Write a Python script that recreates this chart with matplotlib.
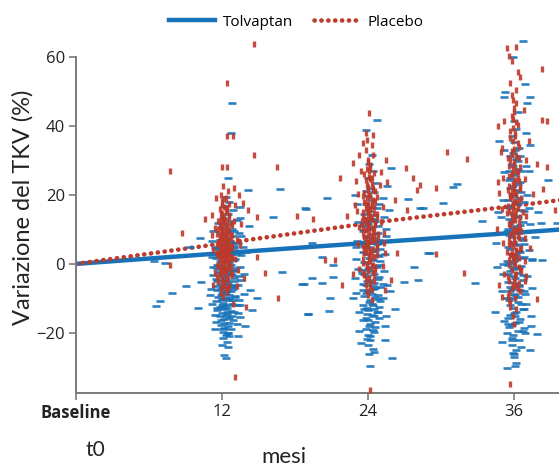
import matplotlib
matplotlib.use("Agg")
import matplotlib.pyplot as plt
from matplotlib.lines import Line2D

# ---------------- data ----------------
line_months = [0, 12, 24, 36, 40]
tolvaptan_mean = [0, 3.1, 6.1, 9.0, 10.0]
placebo_mean = [0, 5.9, 11.8, 16.8, 18.6]

x_ticks = [0, 12, 24, 36]
x_ticklabels = ["Baseline", "12", "24", "36"]
y_ticks = [-20, 0, 20, 40, 60]
series_names = ["Tolvaptan", "Placebo"]

# individual patients (visit month, % change in TKV)
tolvaptan_m12 = [
    (12.3,-20.5),(12.1,-19.0),(12.5,-18.0),(12.2,-17.2),(11.9,-16.4),(12.6,-15.8),(12.3,-15.0),(12.0,-14.3),(12.7,-13.7),(12.2,-13.0),
    (11.8,-12.4),(12.5,-11.8),(12.1,-11.2),(12.8,-10.6),(12.3,-10.0),(11.7,-9.5),(12.6,-9.0),(12.0,-8.4),(12.4,-7.9),(11.8,-7.3),
    (12.9,-6.8),(12.2,-6.2),(12.5,-5.7),(11.6,-5.1),(12.3,-4.6),(13.0,-4.0),(12.0,-3.5),(12.7,-2.9),(11.7,-2.4),(12.4,-1.8),
    (12.9,-1.3),(12.1,-0.7),(11.6,-0.2),(12.6,0.4),(12.3,0.9),(13.1,1.5),(11.9,2.0),(12.5,2.6),(12.2,3.1),(12.8,3.7),
    (11.7,4.2),(12.4,4.8),(13.0,5.3),(12.1,5.9),(12.6,6.4),(11.8,7.0),(12.3,7.5),(12.9,8.1),(12.0,8.7),(12.5,9.3),
    (12.8,10.0),(11.9,10.8),(12.4,11.6),(12.7,12.5),(12.1,13.4),(12.5,14.5),(12.9,15.6),(12.2,16.8),(12.6,18.0),(12.3,19.5),
    (12.2,-16.0),(12.4,-14.0),(12.0,-12.0),(12.6,-10.5),(12.3,-8.5),(12.1,-7.0),(12.7,-6.0),(12.4,-3.0),(11.9,-1.0),(12.8,-15.0),
    (12.5,-20.0),(12.1,-21.5),(12.4,-12.8),(12.0,-10.2),(12.7,-8.0),(12.2,-4.5),(12.9,-2.2),(11.8,0.8),(13.2,3.0),(13.1,-9.5),
    (13.3,6.0),(11.5,-6.5),(13.2,-12.0),(11.6,-13.5),(12.6,-17.0),(12.2,-18.5),(13.0,9.5),(11.7,11.8),(13.4,-3.5),(13.2,12.8),
    (11.5,-16.8),(12.9,-16.2),(11.8,-15.2),(12.4,-14.6),(13.0,-13.9),(11.6,-12.9),(12.2,-12.2),(12.8,-11.5),(11.5,-10.9),(12.0,-10.4),
    (12.6,-9.8),(13.1,-9.2),(11.9,-8.9),(12.3,-8.0),(12.9,-7.4),(11.6,-7.7),(12.1,-6.6),(12.7,-6.4),(11.8,-5.8),(12.4,-5.3),
    (13.0,-5.0),(11.5,-4.3),(12.2,-3.9),(12.8,-3.3),(11.9,-2.7),(12.5,-2.4),(13.1,-1.9),(11.6,-1.6),(12.2,-1.2),(12.7,-0.4),
    (11.8,0.1),(12.4,0.6),(13.0,1.1),(11.5,1.6),(12.1,2.4),(12.7,2.9),(11.9,3.4),(12.4,3.9),(13.0,4.5),(11.6,5.0),
    (12.2,5.6),(12.8,6.2),(11.9,6.8),(12.4,7.2),(12.1,-19.8),(12.7,-18.8),(11.9,-17.7),(12.4,-22.6),(12.0,-23.4),(12.6,-21.0),
    (11.2,-11.5),(11.3,-3.2),(11.4,4.6),(11.1,-7.2),(11.3,9.5),(13.3,-6.2),(13.5,-1.0),(13.4,-10.5),(13.6,2.5),(13.3,-14.2),
    (13.7,5.0),(13.4,9.0),(13.2,-17.5),(11.4,-14.8),(11.3,-0.8),(13.6,-4.6),(13.8,-8.8),(11.2,6.5),(13.5,13.2),(11.4,-19.0),
    (13.3,-20.8),(13.5,-12.0),
    (12.8,46.7),(12.7,38.0),(12.5,25.0),(16.8,21.7),(14.1,21.4),(18.9,16.0),(16.2,13.6),(10.2,7.5),(9.4,5.0),(7.9,-8.4),
    (6.9,-10.7),(6.6,-12.2),(10.0,-12.8),(10.3,-5.2),(9.0,-6.4),(16.9,-2.3),(18.7,-5.8),(19.1,-14.5),(14.9,-10.0),(14.5,-13.3),
    (12.5,-24.0),(12.2,-26.4),(12.3,-27.3),(12.5,-20.0),(6.4,0.9),(7.3,0.3),(13.6,8.0),(14.0,3.5),(13.8,-3.0),(14.3,-7.5),
    (13.5,-15.5),(14.2,11.0),(13.9,-18.0),(11.0,-9.0),(11.2,2.0),(13.5,16.5),
]
tolvaptan_m24 = [
    (24.2,-22.0),(24.0,-20.5),(24.4,-19.2),(24.1,-18.0),(24.6,-16.9),(23.8,-15.8),(24.3,-14.8),(24.7,-13.8),(23.9,-12.9),(24.4,-12.0),
    (24.1,-11.1),(24.8,-10.2),(23.7,-9.4),(24.3,-8.6),(24.0,-7.8),(24.6,-7.0),(23.8,-6.2),(24.5,-5.4),(24.1,-4.6),(24.9,-3.8),
    (23.7,-3.0),(24.3,-2.2),(24.0,-1.4),(24.6,-0.6),(23.8,0.2),(24.4,1.0),(24.1,1.8),(24.8,2.6),(23.6,3.4),(24.3,4.2),
    (24.0,5.0),(24.7,5.8),(23.9,6.6),(24.4,7.4),(24.1,8.2),(24.8,9.0),(23.7,9.8),(24.3,10.6),(24.0,11.5),(24.6,12.4),
    (23.9,13.3),(24.4,14.2),(24.1,15.2),(24.7,16.2),(23.8,17.3),(24.3,18.4),(24.0,19.6),(24.5,20.8),(24.2,22.0),(24.6,23.5),
    (24.0,25.0),(24.4,27.0),(24.1,29.0),(24.3,31.5),(24.2,-17.5),(24.5,-15.0),(24.0,-13.5),(24.3,-11.5),(24.6,-9.5),(24.1,-8.0),
    (24.4,-6.5),(23.9,-5.0),(24.7,-1.0),(24.2,-21.0),(24.9,-12.5),(23.6,-7.5),(25.0,0.8),(23.5,-2.5),(25.1,6.0),(23.6,11.0),
    (24.5,-19.8),(24.0,-16.2),(24.8,-14.0),(25.0,-10.8),(23.7,-13.2),(24.6,3.8),(24.2,12.8),(25.2,-5.8),(23.8,21.0),(24.9,17.5),
    (23.6,-16.4),(24.9,-15.6),(23.9,-14.4),(24.5,-13.2),(23.6,-11.8),(24.2,-10.6),(24.8,-9.0),(23.8,-8.3),(24.4,-7.4),(25.0,-6.8),
    (23.6,-5.8),(24.2,-5.2),(24.8,-4.4),(23.9,-3.4),(24.5,-2.8),(23.6,-1.8),(24.1,-0.9),(24.9,-0.2),(23.7,0.6),(24.3,1.5),
    (24.9,2.2),(23.8,2.9),(24.4,3.6),(25.0,4.4),(23.7,5.3),(24.3,6.2),(24.9,7.0),(23.8,7.8),(24.5,8.6),(23.6,9.4),
    (24.2,10.2),(24.8,11.0),(23.9,12.0),(24.5,13.0),(23.7,14.6),(24.3,16.6),(24.0,-23.5),(24.4,-24.6),(23.8,-19.0),(24.6,-18.3),
    (24.1,-26.0),(23.9,-21.8),
    (23.0,-8.5),(23.2,-1.5),(23.1,6.5),(23.3,-14.0),(25.3,-2.0),(25.4,3.0),(25.2,-10.0),(25.5,8.0),(25.3,13.5),(23.2,12.0),
    (25.5,-15.2),(23.3,-19.5),(25.2,19.0),(23.1,17.5),(25.6,-6.0),(23.0,1.5),(25.4,-22.0),(23.4,-23.0),(25.7,15.5),(22.9,-4.0),
    (24.7,41.7),(23.8,38.8),(25.9,27.8),(20.6,19.0),(18.8,16.2),(28.5,16.2),(27.3,18.8),(19.4,6.1),(20.2,2.0),(21.1,-0.3),
    (19.4,-4.0),(20.2,-5.5),(21.1,-3.8),(18.6,-5.8),(20.9,-9.9),(20.8,-13.6),(19.1,-14.5),(26.2,-13.0),(26.0,-27.2),(24.2,-29.6),
    (24.5,-25.5),(27.0,-5.2),(27.8,-0.9),(28.1,-4.6),(28.9,3.2),(28.3,16.2),(25.5,10.0),(25.8,-8.0),(22.8,-10.0),(23.0,5.0),
    (25.4,-18.0),(22.9,20.0),(25.6,22.5),
]
tolvaptan_m36 = [
    (36.0,-27.0),(36.2,-25.0),(35.8,-23.5),(36.4,-22.0),(35.9,-20.7),(36.3,-19.5),(35.6,-18.3),(36.1,-17.1),(36.5,-16.0),(35.7,-14.9),
    (36.2,-13.8),(35.9,-12.7),(36.6,-11.6),(35.6,-10.6),(36.3,-9.6),(36.0,-8.6),(36.5,-7.6),(35.7,-6.6),(36.1,-5.6),(36.7,-4.6),
    (35.8,-3.6),(36.3,-2.6),(35.9,-1.6),(36.6,-0.6),(35.6,0.4),(36.2,1.4),(36.0,2.4),(36.5,3.4),(35.7,4.4),(36.3,5.4),
    (35.9,6.4),(36.6,7.4),(35.6,8.4),(36.2,9.4),(36.0,10.4),(36.5,11.4),(35.8,12.4),(36.3,13.5),(35.9,14.6),(36.6,15.7),
    (35.7,16.8),(36.1,17.9),(36.4,19.0),(35.8,20.2),(36.2,21.4),(35.9,22.6),(36.5,23.8),(35.7,25.0),(36.1,26.3),(36.3,27.6),
    (35.8,29.0),(36.2,30.5),(35.9,32.0),(36.4,33.6),(36.0,35.2),(35.8,37.0),(36.2,39.0),(36.0,41.5),(36.3,44.0),(36.1,-15.0),
    (35.9,-10.0),(36.4,-6.0),(36.0,-1.0),(36.2,3.0),(35.8,-21.5),(36.6,-24.0),(35.7,-8.0),(36.8,-13.0),(35.5,-3.0),(36.8,2.0),
    (35.5,10.0),(36.8,18.0),(35.5,-17.5),(36.7,-19.5),(35.6,27.0),(36.8,5.8),(35.4,0.8),(36.9,-8.8),(36.1,-29.5),(36.5,31.2),
    (35.4,-20.0),(36.8,-18.6),(35.8,-17.8),(36.4,-16.7),(35.5,-15.6),(36.0,-14.2),(36.7,-13.0),(35.7,-12.0),(36.3,-11.0),(35.4,-9.8),
    (36.1,-9.0),(36.8,-8.0),(35.8,-7.2),(36.4,-6.4),(35.5,-5.2),(36.1,-4.2),(36.7,-3.2),(35.7,-2.2),(36.4,-1.3),(35.5,-0.3),
    (36.0,0.8),(36.7,1.8),(35.8,2.8),(36.4,3.8),(35.5,4.9),(36.1,5.9),(36.7,6.8),(35.8,7.9),(36.3,8.9),(35.4,9.6),
    (36.0,11.0),(36.7,12.0),(35.6,13.0),(36.2,14.0),(36.8,15.2),(35.7,16.2),(36.3,17.4),(35.5,18.6),(36.0,19.8),(36.6,20.8),
    (35.7,22.0),(36.3,23.2),(35.6,24.4),(36.0,25.8),(36.6,26.8),(35.9,28.4),(36.3,29.8),(35.7,31.4),(36.1,33.0),(36.0,-26.2),
    (35.0,-8.0),(35.1,0.0),(35.0,9.0),(35.2,-16.5),(37.1,-3.5),(37.2,4.0),(37.0,-11.5),(37.3,11.5),(37.1,20.0),(35.1,18.5),
    (37.4,-18.0),(35.2,26.5),(37.0,28.5),(35.0,-22.5),(37.3,-25.0),(35.1,-2.8),(37.2,16.2),(34.9,13.5),(37.5,1.5),(35.2,33.0),
    (36.7,64.6),(35.9,60.0),(36.9,52.2),(35.3,49.9),(35.2,48.4),(37.3,48.4),(37.1,46.7),(34.8,35.7),(37.3,34.5),(31.3,23.2),
    (31.0,22.3),(30.2,17.7),(33.4,12.5),(33.2,8.7),(38.8,24.3),(39.5,11.9),(38.0,15.1),(38.2,11.9),(37.7,7.8),(37.5,1.2),
    (38.3,1.2),(32.8,-5.5),(34.4,-13.9),(37.9,-20.3),(35.4,-30.1),(36.2,-28.7),(35.9,-25.8),(36.9,-20.0),(35.8,-22.0),(29.1,3.2),
    (37.5,-7.0),(34.6,-1.0),(37.2,27.0),(34.7,15.0),(37.4,-15.0),(34.5,6.0),(37.0,38.0),
]

placebo_m12 = [
    (12.1,-9.5),(12.4,-8.2),(11.9,-7.0),(12.6,-6.3),(12.2,-5.6),(11.7,-5.0),(12.5,-4.4),(12.0,-4.0),(12.3,-3.5),(11.8,-3.0),
    (12.7,-2.6),(12.1,-2.2),(12.4,-1.8),(11.9,-1.4),(12.6,-1.0),(12.2,-0.7),(11.7,-0.3),(12.5,0.0),(12.0,0.4),(12.3,0.7),
    (11.8,1.0),(12.7,1.3),(12.1,1.6),(12.4,1.9),(11.9,2.2),(12.6,2.5),(12.2,2.8),(11.6,3.1),(12.5,3.4),(12.0,3.7),
    (12.3,4.0),(11.8,4.3),(12.8,4.6),(12.1,4.9),(12.4,5.2),(11.9,5.5),(12.6,5.8),(12.2,6.1),(11.7,6.4),(12.5,6.7),
    (12.0,7.0),(12.3,7.3),(11.8,7.6),(12.7,7.9),(12.1,8.2),(12.4,8.5),(11.9,8.8),(12.6,9.1),(12.2,9.4),(11.7,9.7),
    (12.5,10.0),(12.0,10.4),(12.3,10.8),(11.8,11.2),(12.7,11.6),(12.1,12.0),(12.4,12.5),(11.9,13.0),(12.6,13.5),(12.2,14.0),
    (12.0,14.6),(12.4,15.2),(11.8,15.9),(12.2,16.6),(12.6,17.4),(12.0,18.2),(12.3,19.0),(11.9,20.0),(12.5,21.2),(12.1,22.5),
    (12.2,-2.0),(12.0,0.0),(12.4,1.0),(12.1,2.0),(12.3,3.0),(11.9,4.0),(12.5,5.0),(12.2,6.0),(12.0,7.0),(12.4,8.0),
    (12.1,9.0),(12.3,10.0),(11.9,11.0),(12.2,12.0),(12.0,13.5),(12.4,-4.5),(12.1,-6.5),(12.3,15.5),(12.6,0.5),(11.7,2.5),
    (11.6,-3.8),(12.8,-3.2),(11.9,-2.4),(12.3,-1.6),(12.7,-0.9),(11.6,-0.5),(12.1,0.2),(12.5,0.9),(11.8,1.4),(12.8,2.0),
    (12.3,2.4),(11.6,2.9),(12.0,3.3),(12.6,3.9),(11.8,4.5),(12.3,4.7),(12.8,5.3),(11.6,5.9),(12.1,6.3),(12.5,6.9),
    (11.8,7.4),(12.3,7.8),(12.8,8.3),(11.6,8.6),(12.0,9.3),(12.5,9.8),(11.9,10.3),(12.4,10.9),(12.8,11.4),(11.7,12.3),
    (12.2,12.8),(12.6,14.3),(11.9,14.8),(12.4,16.2),(12.0,17.0),(12.2,18.8),(12.5,-6.8),(11.9,-8.5),(12.3,-7.2),(12.0,-5.3),
    (11.3,4.0),(11.4,10.5),(13.1,1.5),(13.2,7.0),(13.0,12.5),(11.4,-2.5),(13.3,-1.8),(11.2,14.2),(13.1,17.0),(13.2,-6.5),
    (11.5,19.0),(13.0,22.0),
    (7.7,27.0),(8.7,9.0),(10.6,13.0),(12.4,52.5),(12.9,37.0),(12.4,37.0),(14.6,31.6),(16.5,28.0),(12.4,28.0),(12.0,28.0),
    (14.9,13.6),(16.6,-10.0),(7.7,-0.3),(13.1,-32.7),(15.5,-2.6),(14.1,15.7),(13.7,17.7),(14.9,2.0),(14.0,-12.5),(14.6,63.8),
    (13.5,5.5),(13.8,-4.0),(11.2,8.5),(13.4,20.0),(11.3,-6.0),(13.6,11.5),(12.9,-11.5),
]
placebo_m24 = [
    (24.0,-9.0),(24.3,-7.5),(23.8,-6.2),(24.5,-5.0),(24.1,-4.0),(23.7,-3.1),(24.4,-2.3),(24.0,-1.5),(24.6,-0.8),(23.9,0.0),
    (24.2,0.7),(23.6,1.4),(24.5,2.1),(24.1,2.8),(23.8,3.5),(24.4,4.2),(24.0,4.9),(24.7,5.6),(23.9,6.3),(24.3,7.0),
    (23.7,7.7),(24.5,8.4),(24.1,9.1),(23.8,9.8),(24.4,10.5),(24.0,11.2),(24.6,11.9),(23.9,12.6),(24.2,13.3),(23.6,14.0),
    (24.5,14.7),(24.1,15.4),(23.8,16.1),(24.3,16.8),(24.0,17.5),(24.6,18.2),(23.9,19.0),(24.2,19.8),(23.7,20.6),(24.4,21.4),
    (24.0,22.3),(24.3,23.2),(23.8,24.2),(24.1,25.2),(24.5,26.3),(23.9,27.5),(24.2,28.7),(24.0,30.0),(24.4,31.5),(23.8,33.0),
    (24.1,1.0),(24.3,3.0),(23.9,5.0),(24.2,6.5),(24.0,8.0),(24.4,9.5),(24.1,11.0),(23.8,12.0),(24.3,13.0),(24.0,14.5),
    (24.2,16.0),(23.9,17.0),(24.4,18.5),(24.1,20.0),(24.0,-2.0),(24.3,-0.5),(23.7,4.5),(24.5,10.0),(24.2,-5.5),(23.6,9.0),
    (24.7,13.5),(23.7,17.8),(24.6,21.0),(24.2,24.5),(23.9,-8.0),(24.5,-3.5),(24.8,7.5),(23.5,12.3),(24.1,26.8),(24.3,-10.5),
    (23.6,-2.6),(24.6,-1.8),(23.9,-1.0),(24.4,-0.2),(23.6,0.4),(24.1,1.8),(24.7,2.5),(23.7,3.1),(24.2,3.8),(24.7,4.6),
    (23.6,5.3),(24.0,6.0),(24.5,6.8),(23.8,7.3),(24.3,8.0),(24.8,8.8),(23.6,10.3),(24.1,10.7),(24.6,11.5),(23.7,12.9),
    (24.2,13.8),(24.7,14.4),(23.6,15.0),(24.0,15.9),(24.5,16.5),(23.8,17.3),(24.3,18.0),(24.7,19.4),(23.6,19.6),(24.0,21.0),
    (24.4,22.0),(23.9,23.0),(24.3,24.8),(23.7,26.0),(24.2,27.8),(24.0,29.4),(24.3,34.5),(23.9,36.0),(24.2,-6.8),(23.8,-4.5),
    (23.2,5.8),(23.3,10.8),(25.1,12.0),(25.2,16.5),(23.2,20.2),(25.0,22.8),(23.3,-1.5),(25.2,-0.5),(23.1,15.3),(25.3,9.0),
    (23.4,27.0),(25.1,26.5),(25.4,3.2),(23.3,31.5),
    (24.1,43.7),(23.8,38.0),(24.4,37.4),(23.6,35.0),(22.8,29.3),(21.7,25.0),(27.1,27.8),(27.7,25.0),(28.3,23.0),(28.0,21.4),
    (25.6,23.8),(22.3,13.9),(19.5,13.0),(20.5,1.2),(21.3,1.2),(21.9,-6.0),(26.4,3.1),(25.9,-4.6),(24.2,-36.5),(26.2,18.5),
    (27.2,15.7),(18.2,14.0),(25.3,6.0),(22.9,17.0),(25.5,30.0),(22.8,-3.0),(25.4,-7.5),(23.0,24.0),
]
placebo_m36 = [
    (35.9,-15.0),(36.2,-13.0),(35.7,-11.3),(36.1,-9.8),(35.6,-8.5),(36.3,-7.2),(35.9,-6.0),(36.0,-4.9),(35.5,-3.8),(36.2,-2.8),
    (35.8,-1.8),(36.4,-0.8),(36.0,0.2),(35.6,1.2),(36.2,2.2),(35.8,3.2),(36.5,4.2),(35.9,5.2),(36.1,6.2),(35.6,7.2),
    (36.3,8.2),(35.9,9.2),(36.0,10.2),(35.7,11.2),(36.4,12.2),(35.8,13.2),(36.1,14.2),(35.6,15.2),(36.3,16.2),(35.9,17.2),
    (36.0,18.2),(35.7,19.2),(36.2,20.2),(35.8,21.2),(36.5,22.2),(35.9,23.2),(36.1,24.3),(35.6,25.4),(36.3,26.5),(35.9,27.6),
    (36.0,28.8),(35.7,30.0),(36.2,31.3),(35.8,32.6),(36.4,34.0),(35.9,35.5),(36.1,37.0),(35.7,38.6),(36.3,40.2),(35.9,42.0),
    (36.0,44.0),(36.2,46.5),(35.8,49.0),(36.1,0.0),(35.9,2.0),(36.2,4.0),(35.7,6.0),(36.0,8.0),(36.3,10.0),(35.8,12.0),
    (36.1,14.0),(35.9,16.0),(36.2,18.0),(35.7,20.0),(36.0,22.0),(36.4,24.0),(35.8,26.0),(36.1,-4.0),(35.6,-10.5),(36.4,-5.5),
    (36.6,9.5),(35.4,14.8),(36.6,19.0),(35.5,21.5),(36.5,28.0),(35.5,30.8),(36.7,15.0),(35.4,3.5),(36.6,-2.0),(36.0,-17.5),
    (35.5,-9.2),(36.5,-8.0),(35.8,-7.0),(36.2,-6.4),(35.6,-5.0),(36.1,-3.3),(36.5,-1.5),(35.6,-0.3),(36.0,1.0),(36.4,1.6),
    (35.7,2.6),(36.2,3.6),(36.6,4.6),(35.6,5.6),(36.0,6.7),(36.4,7.6),(35.7,8.7),(36.2,9.8),(36.5,10.7),(35.6,11.7),
    (36.1,12.7),(36.5,13.7),(35.8,14.6),(36.2,15.6),(35.5,16.7),(36.0,17.7),(36.4,18.6),(35.8,19.6),(36.1,20.8),(36.5,21.8),
    (35.6,22.7),(36.0,23.7),(36.3,25.0),(35.8,26.2),(36.2,27.0),(35.6,28.3),(36.0,29.4),(36.4,30.6),(35.8,31.8),(36.0,33.3),
    (36.3,35.0),(35.7,36.4),(36.1,38.0),(35.9,39.4),(36.2,41.2),(35.8,43.0),(36.0,45.3),(35.9,47.6),(36.2,50.5),(35.7,-12.4),
    (35.1,6.0),(35.0,16.0),(36.9,7.5),(37.0,14.0),(35.1,25.0),(36.9,24.5),(35.2,-3.0),(36.9,-5.0),(35.0,33.5),(37.0,30.2),
    (35.2,41.5),(36.8,44.5),(35.0,-9.5),(36.9,0.8),
    (35.4,62.6),(36.2,63.0),(35.6,60.3),(35.8,58.8),(38.3,56.5),(36.3,55.7),(36.5,54.2),(35.7,52.5),(38.3,41.7),(38.7,41.4),
    (30.5,32.5),(32.1,30.4),(38.7,28.1),(37.9,29.0),(38.4,21.7),(37.6,20.3),(34.8,20.6),(34.7,23.8),(29.6,22.0),(29.6,2.9),
    (31.9,-2.6),(37.9,-10.1),(35.7,-34.8),(39.4,15.7),(34.9,32.5),(37.3,4.5),(34.6,10.0),(37.2,35.5),(34.8,-6.0),(37.0,-3.5),
    (34.7,40.0),
]

# ---------------- styling ----------------
BLUE = "#1672b9"
RED = "#be3a2b"
AXIS = "#7a7a7a"
TXT = "#222222"
FONT = ["Open Sans", "DejaVu Sans"]
LABEL_FONT = ["Lato", "DejaVu Sans"]
plt.rcParams["font.family"] = FONT

fig = plt.figure(figsize=(5.59, 4.70), dpi=100)
ax = fig.add_axes([0.136, 0.164, 0.864, 0.759])

DOTS = (0, (0.05, 1.45))

# mean trend lines (under the points)
ax.plot(line_months, tolvaptan_mean, color=BLUE, lw=3.2, solid_capstyle="butt", zorder=2)
ax.plot(line_months, placebo_mean, color=RED, lw=3.3, linestyle=DOTS,
        dash_capstyle="round", zorder=2)

def unpack(pts):
    return [p[0] for p in pts], [p[1] for p in pts]

for grp in (tolvaptan_m12, tolvaptan_m24, tolvaptan_m36):
    xs, ys = unpack(grp)
    ax.plot(xs, ys, ls="none", marker="_", ms=5.2, mew=1.9, color=BLUE, alpha=0.9, zorder=3)
for grp in (placebo_m12, placebo_m24, placebo_m36):
    xs, ys = unpack(grp)
    ax.plot(xs, ys, ls="none", marker="|", ms=3.8, mew=2.4, color=RED, alpha=0.9, zorder=4)

ax.set_xlim(0, 39.7)
ax.set_ylim(-37.4, 66)

for s in ("top", "right"):
    ax.spines[s].set_visible(False)
for s in ("left", "bottom"):
    ax.spines[s].set_color(AXIS)
    ax.spines[s].set_linewidth(1.4)
ax.spines["left"].set_bounds(-37.4, 60)

ax.set_yticks(y_ticks)
ax.set_yticklabels(["\u221220" if v == -20 else str(v) for v in y_ticks])
ax.set_xticks(x_ticks)
ax.set_xticklabels(x_ticklabels)
ax.tick_params(axis="both", direction="out", length=5, width=1.2, color=AXIS,
               labelsize=12, labelcolor=TXT, pad=3)
ax.get_xticklabels()[0].set_fontweight("bold")

ax.set_ylabel("Variazione del TKV (%)", fontsize=17, color=TXT, family=LABEL_FONT)
ax.yaxis.set_label_coords(-0.087, 0.52)

fig.text(95 / 559, 1 - 450 / 470, "t0", fontsize=15, color=TXT, ha="center", va="center",
         family=LABEL_FONT)
fig.text(284 / 559, 1 - 457 / 470, "mesi", fontsize=16, color=TXT, ha="center", va="center",
         family=LABEL_FONT)

handles = [
    Line2D([], [], color=BLUE, lw=3.2),
    Line2D([], [], color=RED, lw=3.3, linestyle=DOTS, dash_capstyle="round"),
]
fig.legend(handles, series_names, loc="center", bbox_to_anchor=(0.53, 1 - 22 / 470),
           ncol=2, frameon=False, fontsize=11, handlelength=3.0, handletextpad=0.5,
           columnspacing=1.4)

fig.savefig("out.png", dpi=100)
